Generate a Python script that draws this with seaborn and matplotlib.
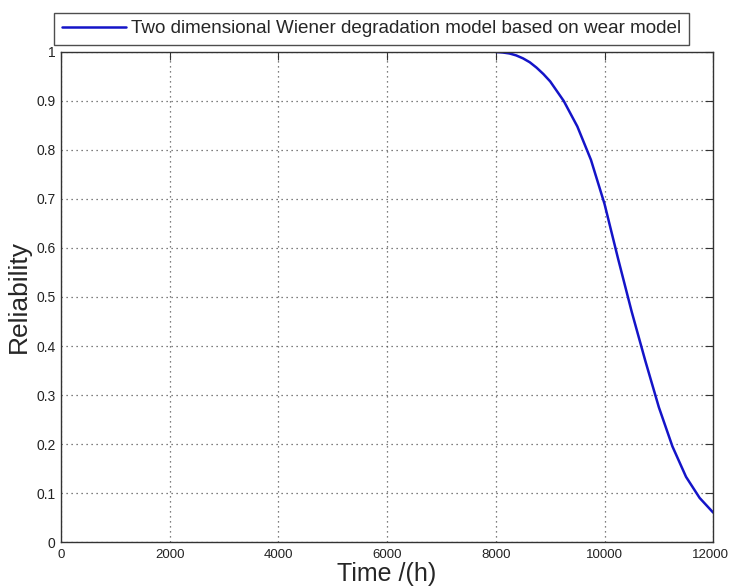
import pandas as pd
import matplotlib.pyplot as plt
import matplotlib.transforms as mtransforms
import seaborn as sns

# ===================== data =====================
time_h = [8000, 8125, 8250, 8375, 8500, 8625, 8750, 8875, 9000, 9250, 9500, 9750,
          10000, 10250, 10500, 10750, 11000, 11250, 11500, 11750, 12000]
reliability = [1.0, 0.999, 0.997, 0.993, 0.987, 0.979, 0.968, 0.955, 0.94, 0.90,
               0.848, 0.78, 0.69, 0.578, 0.47, 0.37, 0.275, 0.195, 0.133, 0.09, 0.06]
series_name = "Two dimensional Wiener degradation model based on wear model"

x_ticks = [0, 2000, 4000, 6000, 8000, 10000, 12000]
y_ticks = [0, 0.1, 0.2, 0.3, 0.4, 0.5, 0.6, 0.7, 0.8, 0.9, 1]
y_ticklabels = ["0", "0.1", "0.2", "0.3", "0.4", "0.5", "0.6", "0.7", "0.8", "0.9", "1"]

df = pd.DataFrame({"Time": time_h, "Reliability": reliability, "Model": series_name})

# ===================== plot =====================
sns.set_style("white")
plt.rcParams['font.family'] = ['Liberation Sans', 'DejaVu Sans']

fig = plt.figure(figsize=(7.3, 5.88), dpi=100)
ax = fig.add_axes([0.0836, 0.0782, 0.8934, 0.8334])

sns.lineplot(data=df, x="Time", y="Reliability", hue="Model",
             palette=["#1414c8"], linewidth=1.8, ax=ax, legend=False)

ax.set_xlim(0, 12000)
ax.set_ylim(0, 1)
ax.set_xticks(x_ticks)
ax.set_xticklabels([str(t) for t in x_ticks], fontsize=9.5)
ax.set_yticks(y_ticks)
ax.set_yticklabels(y_ticklabels, fontsize=10)
ax.tick_params(direction="in", length=6, top=True, right=True, colors="#333333",
               labelcolor="#222222")
ax.tick_params(axis="x", pad=5)
ax.tick_params(axis="y", pad=4)
ax.grid(True, linestyle=(0, (1, 3)), color="#555555", linewidth=0.9)

# last x label sits at the right edge, nudge it in a little
last = ax.get_xticklabels()[-1]
last.set_transform(last.get_transform() + mtransforms.ScaledTranslation(-3 / 100, 0, fig.dpi_scale_trans))

for s in ax.spines.values():
    s.set_color("#333333")
    s.set_linewidth(1.0)

ax.set_xlabel("Time /(h)", fontsize=18, labelpad=1)
ax.set_ylabel("Reliability", fontsize=19, labelpad=4)

line = ax.get_lines()[0]
fig.legend([line], [series_name], loc="center", bbox_to_anchor=(0.509, 0.951),
           fontsize=13.6, frameon=True, fancybox=False, edgecolor="#222222",
           handlelength=3.4, handletextpad=0.3, borderpad=0.4, borderaxespad=0)

plt.savefig("out.png", dpi=100)
plt.close()
